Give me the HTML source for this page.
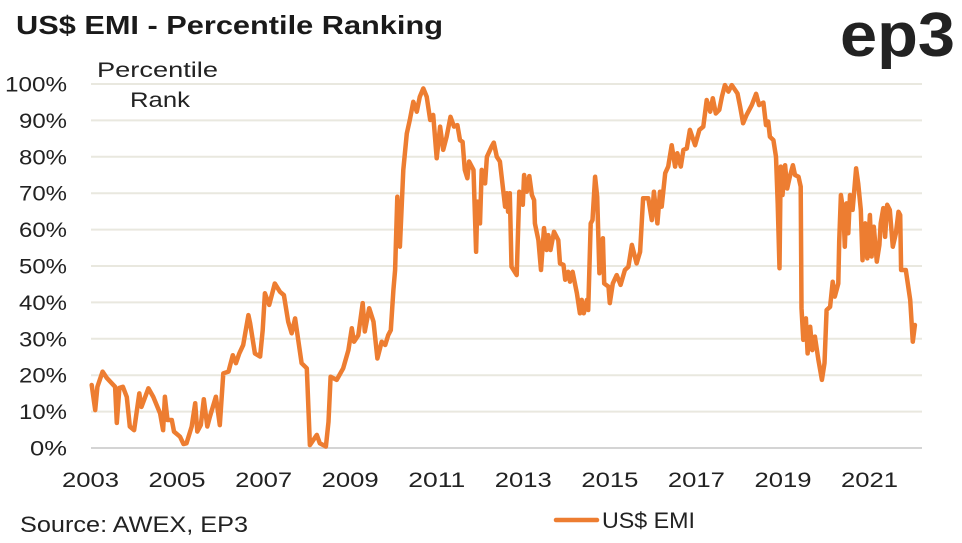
<!DOCTYPE html>
<html><head><meta charset="utf-8"><style>
body{margin:0;background:#fff;}
svg{display:block;font-family:"Liberation Sans",sans-serif;}
</style></head><body>
<svg width="962" height="543" viewBox="0 0 962 543">
<text x="16" y="34" font-size="26" font-weight="bold" fill="#1a1a1a" textLength="427" lengthAdjust="spacingAndGlyphs">US$ EMI - Percentile Ranking</text>
<text x="840" y="56" font-size="62" font-weight="bold" fill="#222" textLength="115" lengthAdjust="spacingAndGlyphs">ep3</text>
<g id="grid"></g>
<g id="yticks"></g>
<g id="xticks"></g>
<text x="97" y="77" font-size="21" fill="#222" textLength="121" lengthAdjust="spacingAndGlyphs">Percentile</text>
<text x="130" y="107" font-size="21" fill="#222" textLength="60" lengthAdjust="spacingAndGlyphs">Rank</text>
<path id="line" fill="none" stroke="#ed7d31" stroke-width="4.5" stroke-linejoin="round" stroke-linecap="round"></path>
<text x="20" y="532" font-size="22" fill="#222" textLength="228" lengthAdjust="spacingAndGlyphs">Source: AWEX, EP3</text>
<line x1="556" y1="520" x2="597" y2="520" stroke="#ed7d31" stroke-width="4.5" stroke-linecap="round"/>
<text x="602" y="528" font-size="22" fill="#222" textLength="93" lengthAdjust="spacingAndGlyphs">US$ EMI</text>
</svg>
<script>
const yTicks=[0,10,20,30,40,50,60,70,80,90,100];
const xTickYears=[2003,2005,2007,2009,2011,2013,2015,2017,2019,2021];
const dates=[2003.04,2003.12,2003.17,2003.29,2003.39,2003.58,2003.62,2003.68,2003.76,2003.85,2003.92,2004.02,2004.14,2004.19,2004.35,2004.46,2004.62,2004.69,2004.73,2004.79,2004.89,2004.94,2005.08,2005.16,2005.23,2005.35,2005.43,2005.48,2005.56,2005.63,2005.71,2005.77,2005.91,2006.00,2006.08,2006.20,2006.30,2006.37,2006.45,2006.54,2006.66,2006.70,2006.81,2006.93,2006.99,2007.04,2007.14,2007.27,2007.39,2007.48,2007.58,2007.66,2007.74,2007.89,2008.01,2008.08,2008.24,2008.31,2008.45,2008.51,2008.56,2008.70,2008.85,2008.97,2009.05,2009.10,2009.20,2009.30,2009.35,2009.45,2009.55,2009.64,2009.74,2009.82,2009.89,2009.95,2010.01,2010.05,2010.10,2010.16,2010.24,2010.32,2010.39,2010.47,2010.55,2010.62,2010.70,2010.78,2010.86,2010.93,2011.01,2011.09,2011.16,2011.24,2011.33,2011.41,2011.49,2011.55,2011.61,2011.66,2011.72,2011.76,2011.86,2011.92,2011.95,2012.01,2012.05,2012.13,2012.17,2012.28,2012.33,2012.40,2012.47,2012.59,2012.63,2012.66,2012.70,2012.74,2012.86,2012.92,2013.00,2013.03,2013.09,2013.15,2013.21,2013.26,2013.28,2013.36,2013.42,2013.49,2013.55,2013.59,2013.64,2013.72,2013.82,2013.86,2013.94,2013.98,2014.05,2014.09,2014.15,2014.25,2014.32,2014.36,2014.41,2014.48,2014.51,2014.57,2014.61,2014.67,2014.72,2014.77,2014.85,2014.88,2014.98,2015.01,2015.08,2015.17,2015.26,2015.36,2015.44,2015.52,2015.63,2015.71,2015.78,2015.90,2015.98,2016.03,2016.11,2016.17,2016.21,2016.29,2016.36,2016.44,2016.52,2016.57,2016.65,2016.71,2016.79,2016.86,2016.98,2017.08,2017.17,2017.25,2017.33,2017.39,2017.46,2017.54,2017.60,2017.67,2017.75,2017.83,2017.96,2018.02,2018.09,2018.17,2018.29,2018.39,2018.46,2018.56,2018.62,2018.67,2018.71,2018.79,2018.85,2018.89,2018.93,2018.96,2019.00,2019.06,2019.11,2019.17,2019.24,2019.29,2019.37,2019.42,2019.44,2019.48,2019.54,2019.58,2019.64,2019.69,2019.75,2019.83,2019.91,2019.97,2020.02,2020.10,2020.16,2020.21,2020.29,2020.31,2020.35,2020.41,2020.44,2020.48,2020.52,2020.56,2020.62,2020.65,2020.70,2020.75,2020.81,2020.85,2020.91,2020.96,2021.02,2021.06,2021.11,2021.18,2021.24,2021.27,2021.33,2021.37,2021.42,2021.48,2021.55,2021.62,2021.68,2021.72,2021.74,2021.85,2021.95,2022.01,2022.06];
const values=[17.3,10.4,16.8,21,19.2,16.8,6.9,16.5,16.8,14,5.9,4.9,15,11.3,16.4,14.1,9.5,4.9,14.1,7.7,7.7,4.5,3.1,1.1,1.3,5.9,12.3,4.5,6.3,13.4,5.9,8.6,14.1,6.3,20.5,21,25.5,23.3,26,28.3,36.5,34.3,26,25.1,32.4,42.5,39.3,45.2,42.9,42,34.7,31.5,35.6,23.3,21.9,0.8,3.6,1.3,0.4,7.2,19.6,18.7,21.9,26.9,32.9,29.2,31,39.8,32,38.4,34.7,24.6,29.2,28.3,31,32.4,43.4,48.9,69,55.3,76.4,86.4,90.1,95.1,92.4,96.5,98.8,96.5,90.1,91.5,79.6,88.3,81.9,85.5,91,88.3,88.7,84.6,84.1,76.4,74.1,78.7,76.4,53.9,67.7,61.7,76.4,72.7,80,82.8,83.9,80,78.7,66.3,70,64.9,70,49.8,47.5,70.4,66.8,75,70.4,74.7,69.5,68.1,61.7,57.1,48.9,60.4,54.4,58.5,54.4,59.4,57.1,50.7,50.3,46.2,48.4,45.7,48.4,42.5,37,40.7,37,40.7,37.9,61.7,62.6,74.5,69,48,57.6,45.2,44.3,39.8,45.2,47.5,44.8,48.9,49.8,55.8,50.7,53.9,68.6,68.6,62.6,70.4,61.7,70.4,66.3,75.5,77.3,83.2,77.3,81,77.3,81.9,82.3,87.4,83.2,87.4,88.3,95.6,92.4,96.1,91.9,92.9,96.5,99.7,97.9,99.7,97.4,93.8,89.2,91.5,94.2,97.3,94.2,94.9,88.7,89.7,85.5,84.6,80,67.2,49.4,77.3,69.5,77.7,71.3,74.5,77.7,75,74.5,71.8,38.4,29.7,35.6,26,33.3,26.9,30.6,24.2,18.7,23.3,37.9,38.8,45.7,41.6,45.2,56.7,69.5,64.5,55.3,67.2,59,69.5,65.4,69.5,76.8,72.7,65.4,51.6,61.7,52.1,64,52.6,60.8,51.2,55.8,61.7,65.9,58,66.8,65.4,55.3,59,64.9,64,48.9,48.9,40.7,29.2,33.8];
const NS='http://www.w3.org/2000/svg';
const X0=90,X1=922,Y0=448,PXY=43.28,PXV=3.64;
function xScale(t){return X0+(t-2003)*PXY;}
function yScale(v){return Y0-v*PXV;}
const grid=document.getElementById('grid'),yt=document.getElementById('yticks'),xt=document.getElementById('xticks');
yTicks.forEach(v=>{
 const l=document.createElementNS(NS,'line');
 l.setAttribute('x1',91);l.setAttribute('x2',X1);
 l.setAttribute('y1',yScale(v));l.setAttribute('y2',yScale(v));
 l.setAttribute('stroke',v===0?'#d4d4d4':'#e9e8df');l.setAttribute('stroke-width',2);
 
 
 grid.appendChild(l);
 const t=document.createElementNS(NS,'text');
 const s=v+'%';
 const w=s.length===4?62:(s.length===3?48:37);
 t.setAttribute('x',67-w);t.setAttribute('y',yScale(v)+7.5);
 t.setAttribute('textLength',w);t.setAttribute('lengthAdjust','spacingAndGlyphs');
 t.setAttribute('font-size','21');t.setAttribute('fill','#222');t.textContent=s;
 
 
 yt.appendChild(t);
});
xTickYears.forEach(y=>{
 const t=document.createElementNS(NS,'text');
 t.setAttribute('x',xScale(y)-28);t.setAttribute('y',487);
 t.setAttribute('textLength',57);t.setAttribute('lengthAdjust','spacingAndGlyphs');
 t.setAttribute('font-size','21');t.setAttribute('fill','#222');t.textContent=y;
 
 
 xt.appendChild(t);
});
document.getElementById('line').setAttribute('d',dates.map((d,i)=>(i?'L':'M')+xScale(d).toFixed(1)+','+yScale(values[i]).toFixed(1)).join(''));
</script>
</body></html>
